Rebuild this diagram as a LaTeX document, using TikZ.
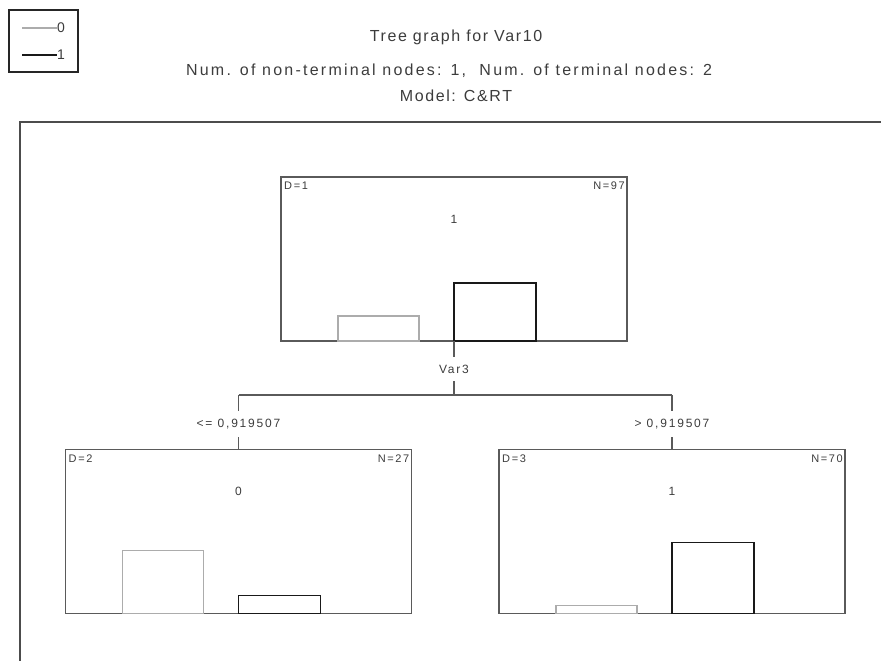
\documentclass[tikz,border=0pt]{standalone}
\usepackage{fontspec}
\setmainfont{Liberation Sans}
\definecolor{ink}{HTML}{3C3C3C}
\definecolor{edge}{HTML}{5A5A5A}
\tikzset{
  treebox/.style={draw=edge, line width=1.4pt, minimum width=346pt, minimum height=164pt, inner sep=0pt, outer sep=0pt},
  tag/.style={text=ink, font=\fontsize{11}{13}\selectfont\addfontfeatures{LetterSpace=15}, inner sep=0pt},
  cut/.style={text=ink, font=\fontsize{12}{14}\selectfont\addfontfeatures{LetterSpace=15}, inner xsep=0pt, inner ysep=8pt},
  headline/.style={text=ink, font=\fontsize{16}{19}\selectfont\addfontfeatures{LetterSpace=10}, inner sep=0pt, anchor=base},
  key/.style={text=ink, font=\fontsize{14}{16}\selectfont, inner sep=0pt, anchor=west},
  bar0/.style={draw=gray!65, line width=1.1pt},
  bar1/.style={draw=black!90, line width=1.7pt},
  link/.style={draw=edge, line width=1.4pt},
  frame/.style={draw=black!70, line width=2pt},
}
\begin{document}
\begin{tikzpicture}[x=1pt,y=-1pt]
    \useasboundingbox (0,0) rectangle (881,661);
    % legend
    \node[draw=black!85, line width=1.4pt, minimum width=69pt, minimum height=62pt, inner sep=0pt] (legend) at (43.5,41) {};
    \coordinate (k0) at (22,28);
    \coordinate (k1) at (22,55);
    \node[key] (key0) at (57,28) {0};
    \node[key] (key1) at (57,55) {1};
    \draw[bar0] (k0) -- (key0);
    \draw[bar1] (k1) -- (key1);
    % headings
    \node[headline] (title) at (456,42) {Tree graph for Var10};
    \node[headline, font=\fontsize{16}{19}\selectfont\addfontfeatures{LetterSpace=14}] (counts) at (449,75) {Num. of non-terminal nodes: 1,~ Num. of terminal nodes: 2};
    \node[headline] (model) at (456,102) {Model: C\&RT};
    % plot frame
    \draw[frame] (20,661) -- (20,122) -- (881,122);
    % tree nodes
    \node[treebox] (n1) at (454,259) {};
    \node[treebox] (n2) at (238.5,531.5) {};
    \node[treebox] (n3) at (672,531.5) {};
    \foreach \b/\d/\n/\c/\hz/\ho in {n1/1/97/1/25/58, n2/2/27/0/63/18, n3/3/70/1/8/71}{
        \node[tag, anchor=north west] (\b-d) at ([shift={(3,5)}]\b.north west) {D=\d};
        \node[tag, anchor=north east] (\b-n) at ([shift={(-2,5)}]\b.north east) {N=\n};
        \node[tag, font=\fontsize{12}{14}\selectfont] (\b-c) at ([shift={(0,42)}]\b.north) {\c};
        \draw[bar0] ([xshift=-116pt]\b.south) rectangle ++(81,-\hz);
        \draw[bar1] (\b.south) rectangle ++(82,-\ho);
    }
    % split
    \node[cut] (split) at (454,369) {Var3};
    \coordinate (fork) at (454,395);
    \coordinate (forkL) at (238.5,395);
    \coordinate (forkR) at (672,395);
    \node[cut] (condL) at (238.5,424) {<= 0,919507};
    \node[cut] (condR) at (672,424) {> 0,919507};
    \draw[link] (n1.south) -- (split);
    \draw[link] (split) -- (fork);
    \draw[link] (forkL) -- (forkR);
    \draw[link] (forkL) -- (condL);
    \draw[link] (condL) -- (n2);
    \draw[link] (forkR) -- (condR);
    \draw[link] (condR) -- (n3);
\end{tikzpicture}
\end{document}
